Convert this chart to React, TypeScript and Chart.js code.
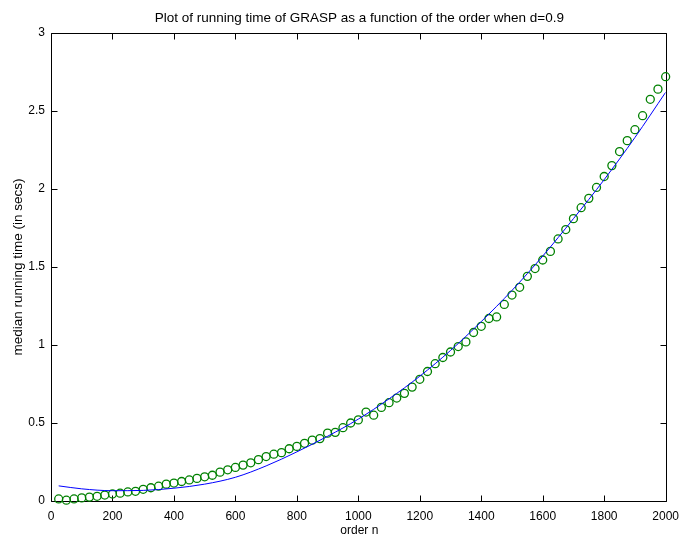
import React, { useEffect, useRef } from 'react';
import { Chart, registerables } from 'chart.js';

Chart.register(...registerables);

const titleText = 'Plot of running time of GRASP as a function of the order when d=0.9';
const xLabel = 'order n';
const yLabel = 'median running time (in secs)';

const orderN = [
  25, 50, 75, 100, 125, 150, 175, 200, 225, 250,
  275, 300, 325, 350, 375, 400, 425, 450, 475, 500,
  525, 550, 575, 600, 625, 650, 675, 700, 725, 750,
  775, 800, 825, 850, 875, 900, 925, 950, 975, 1000,
  1025, 1050, 1075, 1100, 1125, 1150, 1175, 1200, 1225, 1250,
  1275, 1300, 1325, 1350, 1375, 1400, 1425, 1450, 1475, 1500,
  1525, 1550, 1575, 1600, 1625, 1650, 1675, 1700, 1725, 1750,
  1775, 1800, 1825, 1850, 1875, 1900, 1925, 1950, 1975, 2000,
];

const medianTimes = [
  0.013, 0.005, 0.013, 0.02, 0.025, 0.03, 0.038, 0.045, 0.05, 0.058,
  0.062, 0.075, 0.085, 0.095, 0.108, 0.115, 0.125, 0.135, 0.145, 0.155,
  0.165, 0.185, 0.2, 0.215, 0.23, 0.245, 0.265, 0.285, 0.3, 0.31,
  0.335, 0.35, 0.37, 0.39, 0.4, 0.435, 0.44, 0.47, 0.5, 0.52,
  0.57, 0.55, 0.6, 0.63, 0.66, 0.69, 0.73, 0.78, 0.83, 0.88,
  0.92, 0.955, 0.99, 1.02, 1.08, 1.12, 1.17, 1.18, 1.26, 1.32,
  1.37, 1.44, 1.49, 1.545, 1.6, 1.68, 1.74, 1.81, 1.88, 1.94,
  2.01, 2.08, 2.15, 2.24, 2.31, 2.38, 2.47, 2.575, 2.64, 2.72,
];

const fitN = [25, 100, 200, 300, 400, 500, 600, 700, 800, 900, 1000, 1100, 1200, 1300, 1400, 1500, 1600, 1700, 1800, 1900, 2000];
const fitTimes = [0.097, 0.078, 0.066, 0.068, 0.082, 0.108, 0.152, 0.225, 0.315, 0.415, 0.525, 0.655, 0.8, 0.965, 1.15, 1.35, 1.57, 1.81, 2.06, 2.33, 2.62];

const xTicks = [0, 200, 400, 600, 800, 1000, 1200, 1400, 1600, 1800, 2000];
const yTicks = [0, 0.5, 1, 1.5, 2, 2.5, 3];

const FONT = '"Liberation Sans", Arial, Helvetica, sans-serif';

const framePlugin = {
  id: 'matlabFrame',
  beforeDatasetsDraw(chart: any) {
    const { ctx, chartArea: a, scales } = chart;
    const x = scales.x;
    const y = scales.y;
    const tl = 6;
    ctx.save();
    ctx.strokeStyle = '#000';
    ctx.lineWidth = 1;
    const L = Math.round(a.left) + 0.5;
    const R = Math.round(a.right) + 0.5;
    const T = Math.round(a.top) + 0.5;
    const B = Math.round(a.bottom) + 0.5;
    ctx.beginPath();
    ctx.rect(L, T, R - L, B - T);
    xTicks.forEach((v) => {
      const px = Math.round(x.getPixelForValue(v)) + 0.5;
      ctx.moveTo(px, B);
      ctx.lineTo(px, B - tl);
      ctx.moveTo(px, T);
      ctx.lineTo(px, T + tl);
    });
    yTicks.forEach((v) => {
      const py = Math.round(y.getPixelForValue(v)) + 0.5;
      ctx.moveTo(L, py);
      ctx.lineTo(L + tl, py);
      ctx.moveTo(R, py);
      ctx.lineTo(R - tl, py);
    });
    ctx.stroke();
    ctx.restore();
  },
  afterDraw(chart: any) {
    const { ctx, chartArea: a } = chart;
    ctx.save();
    ctx.fillStyle = '#000';
    ctx.textAlign = 'center';
    ctx.textBaseline = 'middle';
    const cx = (a.left + a.right) / 2;
    const cy = (a.top + a.bottom) / 2;
    ctx.font = `13.5px ${FONT}`;
    ctx.fillText(titleText, cx + 1, 18);
    ctx.font = `12px ${FONT}`;
    ctx.fillText(xLabel, cx + 1, 531);
    ctx.font = `13.5px ${FONT}`;
    ctx.translate(18, cy);
    ctx.rotate(-Math.PI / 2);
    ctx.fillText(yLabel, 0, 0);
    ctx.restore();
  },
};

export default function App() {
  const ref = useRef<HTMLCanvasElement | null>(null);

  useEffect(() => {
    if (!ref.current) return;
    const chart = new Chart(ref.current, {
      type: 'scatter',
      data: {
        datasets: [
          {
            label: 'fit',
            type: 'line',
            data: fitN.map((n, i) => ({ x: n, y: fitTimes[i] })),
            borderColor: '#0000ff',
            borderWidth: 1,
            pointRadius: 0,
            showLine: true,
            fill: false,
            cubicInterpolationMode: 'monotone',
          } as any,
          {
            label: 'median',
            data: orderN.map((n, i) => ({ x: n, y: medianTimes[i] })),
            borderColor: '#008000',
            backgroundColor: 'rgba(0,0,0,0)',
            borderWidth: 1.3,
            pointRadius: 4,
            pointStyle: 'circle',
            showLine: false,
            clip: false,
          } as any,
        ],
      },
      options: {
        responsive: false,
        animation: false,
        layout: { padding: { top: 33, right: 15, left: 0, bottom: 0 } },
        plugins: {
          legend: { display: false },
          title: { display: false },
          tooltip: { enabled: false },
        },
        scales: {
          x: {
            type: 'linear',
            min: 0,
            max: 2000,
            grid: { display: false, drawTicks: false },
            border: { display: false },
            afterFit: (s: any) => { s.height = 35; },
            afterBuildTicks: (s: any) => { s.ticks = xTicks.map((v) => ({ value: v })); },
            ticks: {
              color: '#000',
              font: { family: FONT, size: 12 },
              padding: 8,
              maxRotation: 0,
              autoSkip: false,
              callback: (v: any) => String(v),
            },
          },
          y: {
            type: 'linear',
            min: 0,
            max: 3,
            grid: { display: false, drawTicks: false },
            border: { display: false },
            afterFit: (s: any) => { s.width = 51; },
            afterBuildTicks: (s: any) => { s.ticks = yTicks.map((v) => ({ value: v })); },
            ticks: {
              color: '#000',
              font: { family: FONT, size: 12 },
              padding: 6,
              autoSkip: false,
              callback: (v: any) => String(v),
            },
          },
        },
      },
      plugins: [framePlugin],
    });
    return () => chart.destroy();
  }, []);

  return (
    <div style={{ position: 'absolute', left: 0, top: 0, width: 687, height: 536, background: '#fff' }}>
      <canvas ref={ref} width={687} height={536} />
    </div>
  );
}
